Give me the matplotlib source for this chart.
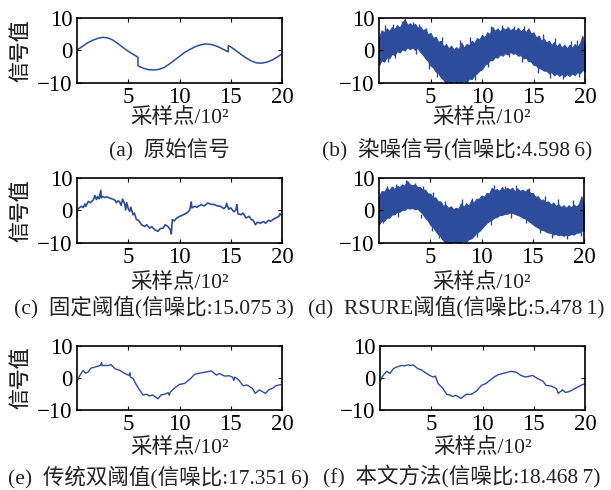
import numpy as np
import matplotlib
matplotlib.use("Agg")
import matplotlib.pyplot as plt

plt.rcParams['font.family'] = ['Liberation Serif', 'Noto Sans CJK SC', 'DejaVu Serif']

W, H = 611, 490
BLUE = '#2d4d9c'

# (a) original signal, sample index in units of 100, with the two jumps
orig_pts = [(0, 0.15), (0.5, 1.2), (1.0, 2.3), (1.5, 3.1), (2.0, 3.7), (2.5, 4.05),
            (3.0, 3.9), (3.5, 3.2), (4.0, 2.1), (4.5, 0.9), (5.0, -0.25), (5.5, -1.2),
            (5.95, -2.1), (5.95, -4.7), (6.5, -5.5), (7.0, -5.9), (7.5, -6.0), (8.0, -5.8),
            (8.5, -5.2), (9.0, -4.2), (9.5, -3.0), (10.0, -1.8), (10.5, -0.6), (11.0, 0.3),
            (11.5, 1.1), (12.0, 1.7), (12.5, 2.0), (13.0, 1.9), (13.5, 1.5), (14.0, 0.8),
            (14.5, 0.0), (14.75, -0.4), (14.75, 1.5), (15.0, 1.1), (15.5, 0.0), (16.0, -1.2),
            (16.5, -2.3), (17.0, -3.2), (17.5, -3.8), (18.0, -3.9), (18.5, -3.6), (19.0, -3.0),
            (19.5, -2.1), (20.0, -1.0)]

# envelopes of the noisy traces, one value every 25 samples
env_x = np.linspace(0, 20, 81)
noisy_hi = [4.0, 6.2, 5.6, 6.8, 6.0, 7.2, 6.5, 7.8, 7.0, 8.4, 9.7, 7.8, 8.4, 7.6, 8.2, 7.0,
            7.4, 6.2, 6.6, 5.0, 5.4, 3.8, 4.2, 2.6, 3.0, 1.2, 2.0, 0.6, 1.5, 0.2, 1.0, 0.4,
            2.4, 0.8, 2.0, 1.6, 3.0, 2.2, 3.8, 3.4, 4.8, 4.0, 5.6, 5.0, 7.2, 6.0, 6.8, 5.8,
            7.0, 6.4, 7.2, 6.2, 6.8, 6.0, 7.0, 5.8, 6.6, 5.6, 6.8, 5.2, 5.6, 4.0, 4.6, 3.0,
            3.6, 2.4, 3.0, 1.6, 2.6, 1.2, 2.2, 0.8, 1.8, 0.6, 1.8, 0.8, 2.0, 1.0, 2.2, 4.5, 1.0]
noisy_lo = [-4.5, -3.0, -3.4, -2.0, -2.4, -1.0, -1.4, -0.2, -0.6, 0.4, 0.0, 1.0, 0.4, 1.0,
            0.2, 0.8, -0.4, -1.2, -2.4, -3.2, -4.6, -5.2, -6.4, -7.0, -8.2, -9.0, -10, -9.6,
            -10, -9.4, -10, -9.6, -10, -9.2, -9.8, -8.6, -8.8, -7.6, -7.0, -6.2, -5.8, -4.4,
            -4.0, -3.0, -3.0, -2.0, -2.2, -1.2, -1.6, -0.8, -1.2, -0.4, -1.0, -0.8, -1.6, -1.4,
            -2.4, -2.2, -3.2, -3.4, -4.4, -4.6, -5.4, -5.6, -6.2, -6.2, -7.0, -6.6, -7.6, -7.0,
            -7.8, -7.2, -8.0, -7.2, -7.8, -7.0, -7.6, -6.6, -7.0, -6.0, -6.4]
rsure_hi = [4.2, 6.0, 5.8, 7.0, 6.2, 7.4, 6.6, 7.6, 7.2, 8.0, 7.6, 9.1, 8.0, 7.8, 8.0, 7.2,
            7.2, 6.4, 6.4, 5.2, 5.2, 4.0, 4.0, 2.8, 2.8, 1.4, 1.8, 0.8, 1.3, 0.4, 0.8, 0.6,
            2.2, 1.0, 2.2, 1.4, 3.2, 2.4, 3.6, 3.6, 4.6, 4.2, 5.4, 5.2, 7.0, 6.2, 6.6, 6.0,
            7.2, 6.2, 7.0, 6.4, 7.0, 5.8, 6.8, 6.0, 6.4, 5.8, 6.6, 5.4, 5.4, 4.2, 4.4, 3.2,
            3.4, 2.6, 2.8, 1.8, 2.4, 1.4, 2.0, 1.0, 1.6, 0.8, 1.6, 1.0, 1.8, 1.2, 2.0, 4.4, 1.2]
rsure_lo = [-4.2, -3.2, -3.2, -2.2, -2.2, -1.2, -1.2, -0.4, -0.4, 0.2, 0.2, 0.8, 0.6, 0.8,
            0.4, 0.6, -0.2, -1.0, -2.2, -3.0, -4.4, -5.0, -6.2, -7.2, -8.0, -9.2, -9.8, -9.8,
            -10, -9.6, -9.8, -9.8, -9.8, -9.4, -9.6, -8.8, -8.6, -7.8, -6.8, -6.4, -5.6, -4.6,
            -3.8, -3.2, -2.8, -2.2, -2.0, -1.4, -1.4, -1.0, -1.0, -0.6, -0.8, -1.0, -1.4, -1.6,
            -2.2, -2.4, -3.0, -3.6, -4.2, -4.8, -5.2, -5.8, -6.0, -6.4, -6.8, -6.8, -7.4, -7.2,
            -7.6, -7.4, -7.8, -7.4, -7.6, -7.2, -7.4, -6.8, -6.8, -6.2, -6.2]

# single noise spikes sticking out of the bands: (x, from, to)
noisy_spikes = [(0.6, 5, 7.8), (1.4, 6, 8.2), (2.2, 7, 9.0), (3.3, 7, 8.9), (3.9, 6, 8.0),
                (4.6, 5, 6.8), (6.1, 2, 4.0), (7.9, 1, 3.2), (8.8, 2, 4.0), (10.9, 5, 7.6),
                (11.9, 6, 7.8), (13.1, 6, 7.6), (14.1, 6, 7.4), (15.9, 3, 5.0), (17.1, 2, 3.8),
                (18.6, 1, 3.0), (19.2, 1, 3.2),
                (0.9, -1, -3.6), (1.6, -0.5, -2.2), (3.6, 0.5, -1.2), (4.9, -3, -5.8),
                (5.6, -6, -8.2), (9.3, -7, -9.0), (10.6, -3, -5.2), (12.6, -0.5, -2.0),
                (13.9, -2, -3.6), (15.4, -5, -6.8), (16.6, -6, -8.4), (17.9, -7, -8.8),
                (19.4, -6, -8.2)]
rsure_spikes = [(0.8, 5, 7.6), (1.7, 6, 8.0), (2.6, 7, 9.4), (3.5, 7, 8.6), (4.3, 6, 7.6),
                (5.3, 4, 5.8), (6.4, 1, 3.0), (8.1, 1, 3.4), (9.1, 2, 3.8), (11.2, 5, 7.8),
                (12.3, 6, 7.6), (13.4, 6, 7.8), (14.6, 5, 7.0), (16.2, 3, 4.6), (17.5, 2, 3.6),
                (18.9, 1, 3.2),
                (0.4, -2, -4.0), (1.9, -0.5, -2.0), (4.1, -1, -2.4), (5.2, -4, -6.2),
                (5.9, -6, -8.4), (9.6, -6, -8.2), (10.9, -2, -4.4), (12.9, -0.5, -2.2),
                (14.3, -2, -4.0), (15.7, -5, -7.0), (16.9, -6, -8.6), (18.3, -7, -8.9),
                (19.7, -5, -7.8)]

# (c) fixed threshold result
fixed_pts = [(0, -2.0), (0.02, 0.2), (0.2, 0.8), (0.45, 1.3), (0.6, 0.9), (0.78, 2.0),
             (0.85, 1.2), (1.1, 2.8), (1.3, 2.4), (1.6, 3.3), (1.75, 4.6), (1.9, 3.4),
             (2.0, 4.2), (2.15, 3.6), (2.33, 6.2), (2.36, 3.9), (2.5, 4.3), (2.7, 4.0),
             (2.9, 4.2), (3.2, 3.8), (3.4, 3.6), (3.7, 3.2), (3.85, 2.4), (4.0, 3.0),
             (4.17, 2.6), (4.3, 1.6), (4.45, 3.5), (4.66, 2.0), (4.75, 0.2), (4.85, 2.4),
             (5.0, 0.6), (5.15, -0.3), (5.25, 1.0), (5.47, -1.3), (5.6, -0.8), (5.8, -2.8),
             (6.0, -3.0), (6.3, -4.4), (6.6, -4.9), (6.8, -4.4), (7.1, -5.4), (7.3, -5.0),
             (7.57, -5.9), (7.9, -6.4), (8.1, -5.6), (8.4, -5.4), (8.6, -4.4), (8.87, -4.9),
             (9.1, -5.9), (9.2, -7.2), (9.3, -2.8), (9.5, -3.2), (9.7, -2.4), (10.0, -1.8),
             (10.2, -1.6), (10.5, -1.1), (10.8, -0.6), (11.0, 0.2), (11.15, 2.6), (11.2, 0.8),
             (11.46, 1.3), (11.7, 1.0), (12.1, 1.8), (12.4, 1.4), (12.75, 2.3), (13.0, 2.0),
             (13.4, 1.8), (13.7, 1.4), (14.0, 1.3), (14.3, 0.6), (14.5, 1.0), (14.6, 2.2),
             (14.8, 0.4), (15.0, 0.8), (15.3, -0.4), (15.5, 0.2), (15.6, 1.8), (15.7, -1.0),
             (16.0, -1.3), (16.2, -0.8), (16.5, -2.3), (16.8, -1.8), (17.0, -2.8), (17.2, -3.0),
             (17.4, -4.4), (17.6, -3.6), (17.9, -3.9), (18.2, -3.4), (18.4, -3.9), (18.7, -3.0),
             (18.9, -3.3), (19.2, -2.6), (19.4, -2.3), (19.7, -1.8), (19.8, -1.0), (20.0, -1.6)]

# (e) classic double threshold result
double_pts = [(0, -1.0), (0.3, 0.9), (0.6, 2.4), (0.84, 1.5), (1.1, 1.9), (1.36, 3.1),
              (1.75, 3.4), (2.07, 3.7), (2.3, 4.0), (2.4, 4.8), (2.45, 3.9), (2.72, 3.9),
              (3.04, 3.9), (3.3, 4.2), (3.7, 2.9), (4.17, 2.4), (4.66, 1.4), (5.1, 0.8),
              (5.15, 1.6), (5.2, 0.4), (5.47, -0.2), (5.8, -2.2), (6.1, -3.7), (6.44, -5.3),
              (6.76, -5.1), (7.1, -5.6), (7.4, -5.3), (7.9, -6.5), (8.2, -5.3), (8.5, -5.1),
              (8.9, -4.6), (9.0, -5.4), (9.1, -4.4), (9.5, -3.2), (10.0, -2.0), (10.5, -1.7),
              (11.0, -0.4), (11.5, 1.2), (12.1, 1.6), (12.65, 1.9), (13.1, 2.2), (13.6, 0.9),
              (13.9, 1.4), (14.4, 0.6), (14.85, 0.7), (15.2, 0.2), (15.3, -0.8), (15.4, 0.3),
              (15.8, -0.7), (16.2, -2.4), (16.6, -2.2), (17.1, -3.2), (17.4, -4.8), (17.8, -3.7),
              (18.1, -4.3), (18.4, -4.8), (18.7, -3.7), (19.1, -3.2), (19.4, -2.4), (20.0, -2.0)]

# (f) proposed method result
ours_pts = [(0, -1.0), (0.3, 0.8), (0.65, 2.1), (0.97, 1.4), (1.3, 2.9), (1.6, 3.4),
            (2.1, 3.9), (2.4, 3.8), (2.75, 4.1), (3.0, 3.9), (3.24, 4.1), (3.7, 2.9),
            (4.0, 2.6), (4.37, 1.8), (4.85, 0.8), (5.2, 0.3), (5.4, 0.6), (5.66, -1.7),
            (6.15, -3.3), (6.5, -5.1), (6.8, -5.3), (7.1, -5.8), (7.4, -5.4), (7.9, -6.4),
            (8.4, -5.1), (8.9, -5.1), (9.4, -4.1), (9.9, -2.3), (10.35, -1.7), (11.0, 0.0),
            (11.5, 1.0), (12.1, 1.5), (12.8, 2.1), (13.3, 1.8), (13.75, 0.8), (14.2, 0.3),
            (14.9, 0.8), (15.4, -0.2), (15.9, -1.0), (16.2, -2.3), (16.7, -2.5), (17.2, -3.3),
            (17.4, -4.8), (17.8, -3.7), (18.1, -4.5), (18.4, -4.3), (18.8, -3.7), (19.3, -2.8),
            (19.8, -2.0), (20.0, -1.8)]

captions = ['(a)  原始信号',
            '(b)  染噪信号(信噪比:4.598\u20096)',
            '(c)  固定阈值(信噪比:15.075\u20093)',
            '(d)  RSURE阈值(信噪比:5.478\u20091)',
            '(e)  传统双阈值(信噪比:17.351\u20096)',
            '(f)  本文方法(信噪比:18.468\u20097)']
caption_x = [169, 457, 154, 456, 158, 462]

# axes boxes in pixels: left, right, top, bottom
boxes = [(77, 282, 18, 83), (379, 585, 18, 83),
         (77, 282, 178, 243), (379, 584, 178, 243),
         (77, 282, 346, 410), (380, 585, 346, 410)]
xlabel_y = [118, 118, 283, 283, 448, 448]
caption_y = [150, 150, 307, 307, 477, 477]

fig = plt.figure(figsize=(W / 100, H / 100), dpi=100)


def px(x, y):
    return x / W, 1 - y / H


axes = []
for i, (l, r, t, b) in enumerate(boxes):
    ax = fig.add_axes([l / W, 1 - b / H, (r - l) / W, (b - t) / H])
    ax.set_xlim(0, 20)
    ax.set_ylim(-10, 10)
    ax.set_xticks([5, 10, 15, 20])
    ax.set_yticks([-10, 0, 10])
    ax.tick_params(direction='in', length=3, width=0.8, labelsize=16.5, pad=3,
                   top=True, right=True)
    for s in ax.spines.values():
        s.set_linewidth(1.2)
    axes.append(ax)
    fig.text(*px(22, (t + b) / 2), '信号值', rotation=90, fontsize=15,
             ha='center', va='center', color='#222222')
    fig.text(*px((l + r) / 2, xlabel_y[i]), '采样点/10²', fontsize=15.5,
             ha='center', va='center', color='#222222')
    fig.text(*px(caption_x[i], caption_y[i]), captions[i], fontsize=15.5,
             ha='center', va='center', color='#222222')

ox, oy = zip(*orig_pts)
axes[0].plot(ox, oy, color=BLUE, lw=1.1)

axes[1].fill_between(env_x, noisy_lo, noisy_hi, color=BLUE, lw=0.8)
sp_x, sp_a, sp_b = zip(*noisy_spikes)
axes[1].vlines(sp_x, sp_a, sp_b, color=BLUE, lw=1.0)

axes[3].fill_between(env_x, rsure_lo, rsure_hi, color=BLUE, lw=0.8)
sp_x, sp_a, sp_b = zip(*rsure_spikes)
axes[3].vlines(sp_x, sp_a, sp_b, color=BLUE, lw=1.0)

fx, fy = zip(*fixed_pts)
axes[2].plot(fx, fy, color=BLUE, lw=1.2)
dx, dy = zip(*double_pts)
axes[4].plot(dx, dy, color=BLUE, lw=1.0)
sx, sy = zip(*ours_pts)
axes[5].plot(sx, sy, color=BLUE, lw=1.0)

fig.savefig('out.png', dpi=100)
